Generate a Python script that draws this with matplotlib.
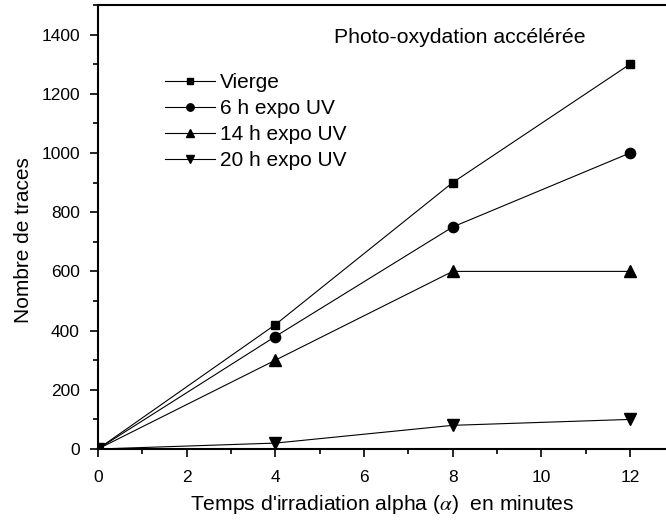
import numpy as np
import matplotlib.pyplot as plt
from matplotlib.ticker import MultipleLocator

plt.rcParams['font.family'] = ['Liberation Sans', 'DejaVu Sans']
plt.rcParams['mathtext.fontset'] = 'stix'

# Data
temps = [0, 4, 8, 12]
vierge = [0, 420, 900, 1300]
expo_6h = [0, 380, 750, 1000]
expo_14h = [0, 300, 600, 600]
expo_20h = [0, 20, 80, 100]

fig = plt.figure(figsize=(6.66, 5.2), dpi=100)
ax = fig.add_axes([0.147, 0.1365, 0.853, 0.854])

ax.plot(temps, vierge, 'k-s', lw=0.8, ms=6.2, label='Vierge')
ax.plot(temps, expo_6h, 'k-o', lw=0.8, ms=7.4, label='6 h expo UV')
ax.plot(temps, expo_14h, 'k-^', lw=0.8, ms=8.5, label='14 h expo UV')
ax.plot(temps, expo_20h, 'k-v', lw=0.8, ms=8.5, label='20 h expo UV')

ax.set_xlim(0, 12.81)
ax.set_ylim(0, 1500)
ax.xaxis.set_major_locator(MultipleLocator(2))
ax.xaxis.set_minor_locator(MultipleLocator(1))
ax.yaxis.set_major_locator(MultipleLocator(200))
ax.yaxis.set_minor_locator(MultipleLocator(100))
ax.tick_params(which='major', length=6, width=1.2, labelsize=12.5, pad=7, direction='out')
ax.tick_params(axis='x', which='major', pad=9)
ax.tick_params(which='minor', length=3.5, width=1.2, direction='out')
ax.spines['right'].set_visible(False)
for s in ['left', 'bottom', 'top']:
    ax.spines[s].set_linewidth(1.5)

ax.set_xlabel(r"Temps d'irradiation alpha ($\alpha$)  en minutes", fontsize=15.2, labelpad=6)
ax.set_ylabel('Nombre de traces', fontsize=15)
ax.yaxis.set_label_coords(-0.114, 0.47)

ax.text(0.637, 0.926, 'Photo-oxydation accélérée', transform=ax.transAxes,
        fontsize=15.3, va='center', ha='center')

ax.legend(loc='upper left', bbox_to_anchor=(0.118, 0.846), frameon=False,
          fontsize=15, handlelength=2.4, handletextpad=0.25, markerscale=0.72,
          labelspacing=0.33, numpoints=1, borderaxespad=0, borderpad=0)

fig.savefig('out.png', dpi=100)
